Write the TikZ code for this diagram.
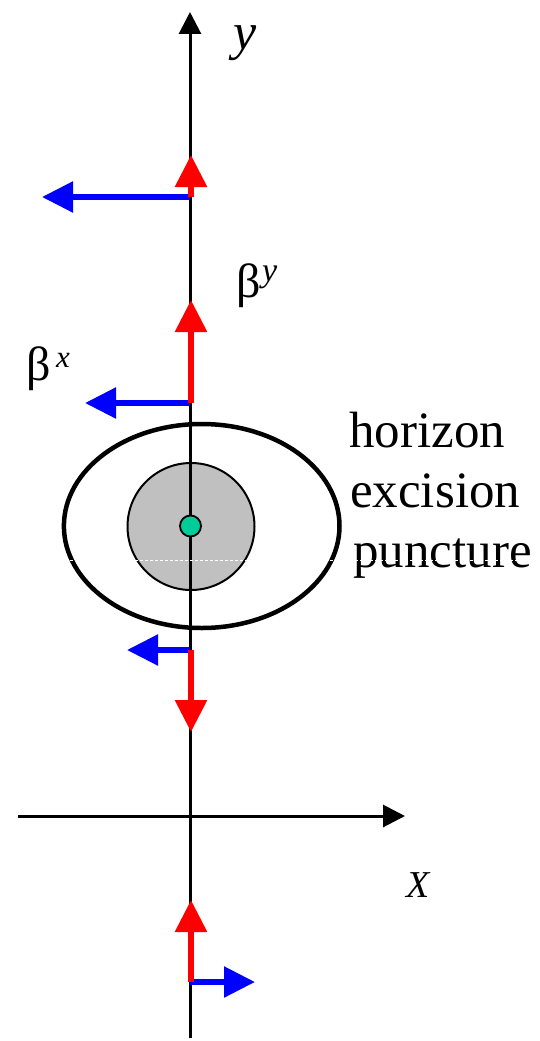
\documentclass[tikz,border=0pt]{standalone}
\usepackage{fontspec}
\setmainfont{Liberation Serif}
\newfontfamily\tnr{Liberation Serif}
\usetikzlibrary{arrows.meta}
\definecolor{dotgreen}{RGB}{0,204,153}
\definecolor{discgrey}{RGB}{192,192,192}
\begin{document}
\begin{tikzpicture}[x=1pt,y=-1pt,
  axisline/.style={line width=3pt,black,-{Triangle[length=22pt,width=22pt]}},
  shiftred/.style={line width=6pt,red,-{Triangle[length=32pt,width=31pt]}},
  shiftblue/.style={line width=5.5pt,blue,-{Triangle[length=31pt,width=30pt]}},
  lbl/.style={inner sep=0pt,anchor=base west},
  bigtext/.style={lbl,font=\tnr\fontsize{51}{60}\selectfont}]
\useasboundingbox (0,0) rectangle (539,1041);
% coordinates
\coordinate (ybot) at (190,1038);
\coordinate (ytop) at (190,12);
\coordinate (xleft) at (18,816);
\coordinate (xright) at (405,816);
\coordinate (c) at (190.5,526);
% horizon and excision
\draw[line width=4.5pt] (201.7,526) ellipse [x radius=137.8, y radius=102];
\draw[line width=2pt,fill=discgrey] (191,526.5) circle [radius=63.5];
% axes
\draw[axisline] (ybot) -- (ytop);
\draw[axisline] (xleft) -- (xright);
% puncture
\node[circle,draw,line width=1.8pt,fill=dotgreen,minimum size=21pt,inner sep=0pt] (punct) at (c) {};
% shift vectors
\coordinate (b1) at (190,197);  \coordinate (b1t) at (42,197);
\coordinate (r1) at (191,197);  \coordinate (r1t) at (191,155);
\coordinate (b2) at (190,403);  \coordinate (b2t) at (85,403);
\coordinate (r2) at (191,403);  \coordinate (r2t) at (191,300);
\coordinate (b3) at (190,650);  \coordinate (b3t) at (127,650);
\coordinate (r3) at (191,650);  \coordinate (r3t) at (191,732);
\coordinate (b4) at (190,982);  \coordinate (b4t) at (255,982);
\coordinate (r4) at (191,982);  \coordinate (r4t) at (191,900);
\draw[shiftblue] (b1) -- (b1t);
\draw[shiftred] (r1) -- (r1t);
\draw[shiftblue] (b2) -- (b2t);
\draw[shiftred] (r2) -- (r2t);
\draw[shiftblue] (b3) -- (b3t);
\draw[shiftred] (r3) -- (r3t);
\draw[shiftblue] (b4) -- (b4t);
\draw[shiftred] (r4) -- (r4t);
% labels
\node[lbl,font=\tnr\fontsize{52}{60}\selectfont\itshape] (ylab) at (233,49) {y};
\node[lbl,font=\tnr\fontsize{38}{44}\selectfont\itshape] (xlab) at (406,897) {X};
\node[lbl,font=\tnr\fontsize{48}{60}\selectfont] (betay) at (236,297) {β};
\node[lbl,font=\tnr\fontsize{34}{40}\selectfont\itshape] (betays) at (262,281) {y};
\node[lbl,font=\tnr\fontsize{48}{60}\selectfont] (betax) at (26,380) {β};
\node[lbl,font=\tnr\fontsize{31}{40}\selectfont\itshape] (betaxs) at (56,367) {x};
\node[bigtext] (thor) at (349,447) {horizon};
\node[bigtext] (texc) at (350,507) {excision};
\node[bigtext] (tpun) at (353,567) {puncture};
% white dashed artefact
\coordinate (dl) at (65,560);
\coordinate (dr) at (520,560);
\draw[white,line width=1pt,dash pattern=on 3pt off 2pt] (dl) -- (dr);
\end{tikzpicture}
\end{document}
